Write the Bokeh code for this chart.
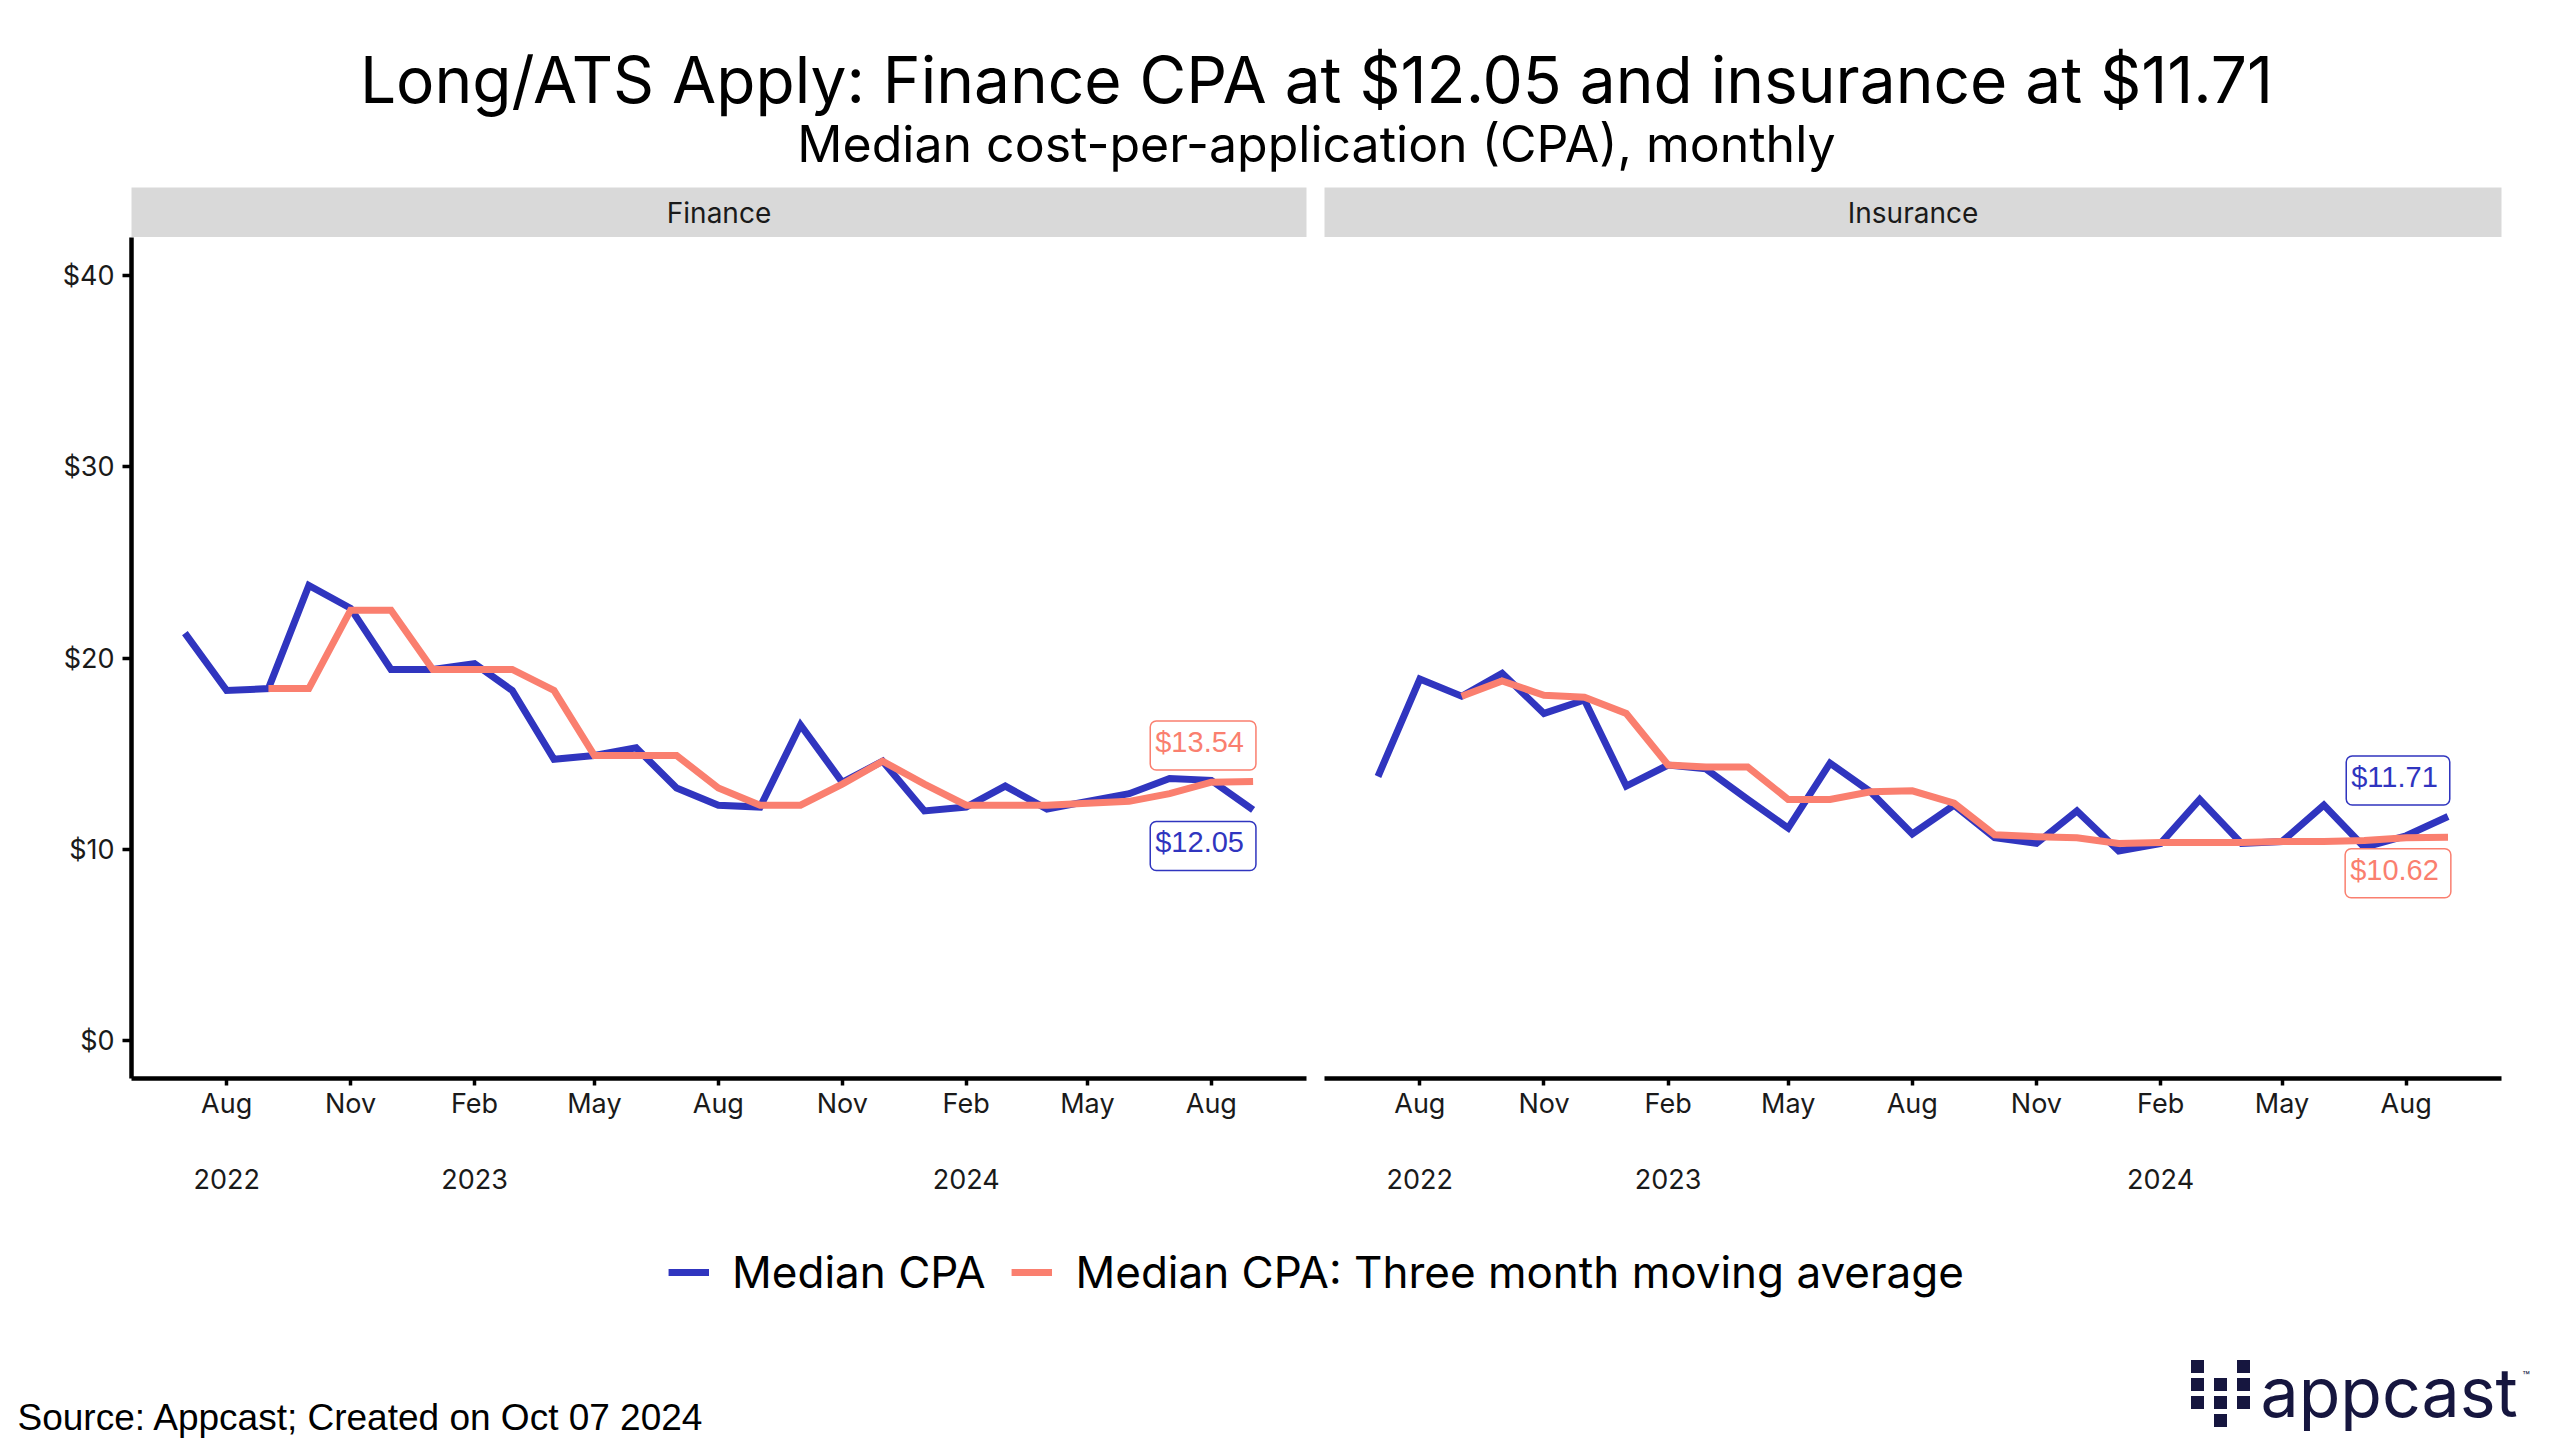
import numpy as np
import pandas as pd
from bokeh.plotting import figure
from bokeh.models import (Range1d, FixedTicker, LinearAxis, Label, Legend, LegendItem,
                          NumeralTickFormatter, Spacer)
from bokeh.layouts import column, row
from bokeh.embed import file_html
from bokeh.resources import INLINE

# ---------------- data ----------------
months = ["2022-07", "2022-08", "2022-09", "2022-10", "2022-11", "2022-12",
          "2023-01", "2023-02", "2023-03", "2023-04", "2023-05", "2023-06",
          "2023-07", "2023-08", "2023-09", "2023-10", "2023-11", "2023-12",
          "2024-01", "2024-02", "2024-03", "2024-04", "2024-05", "2024-06",
          "2024-07", "2024-08", "2024-09"]
nan = np.nan
finance_median = [21.3, 18.3, 18.4, 23.8, 22.6, 19.4, 19.4, 19.7, 18.3, 14.7, 14.9, 15.3,
                  13.2, 12.3, 12.2, 16.5, 13.5, 14.6, 12.0, 12.2, 13.3, 12.1, 12.5, 12.9,
                  13.7, 13.6, 12.05]
finance_ma = [nan, nan, 18.4, 18.4, 22.5, 22.5, 19.4, 19.4, 19.4, 18.3, 14.9, 14.9,
              14.9, 13.2, 12.3, 12.3, 13.4, 14.6, 13.4, 12.3, 12.3, 12.3, 12.4, 12.5,
              12.9, 13.5, 13.54]
insurance_median = [13.8, 18.9, 18.0, 19.2, 17.1, 17.8, 13.3, 14.4, 14.2, 12.6, 11.1, 14.5,
                    13.0, 10.8, 12.3, 10.6, 10.3, 12.0, 9.9, 10.3, 12.6, 10.3, 10.4, 12.3,
                    10.1, 10.7, 11.71]
insurance_ma = [nan, nan, 18.0, 18.8, 18.05, 17.95, 17.1, 14.4, 14.3, 14.3, 12.6, 12.6,
                13.0, 13.05, 12.4, 10.75, 10.65, 10.6, 10.3, 10.35, 10.35, 10.35, 10.4, 10.4,
                10.45, 10.6, 10.62]
panel_names = ["Finance", "Insurance"]
series_names = ["Median CPA", "Median CPA: Three month moving average"]
y_ticks = [0, 10, 20, 30, 40]
month_tick_dates = ["2022-08", "2022-11", "2023-02", "2023-05", "2023-08", "2023-11",
                    "2024-02", "2024-05", "2024-08"]
month_tick_labels = ["Aug", "Nov", "Feb", "May", "Aug", "Nov", "Feb", "May", "Aug"]
year_tick_dates = ["2022-08", "2023-02", "2024-02"]
year_tick_labels = ["2022", "2023", "2024"]

TITLE = "Long/ATS Apply: Finance CPA at $12.05 and insurance at $11.71"
SUBTITLE = "Median cost-per-application (CPA), monthly"
SOURCE = "Source: Appcast; Created on Oct 07 2024"

BLUE = "#3035BF"
SALMON = "#FA7F6F"
FONT = "Inter"
TICK_SIZE = "27px"

# ---------------- x coordinates (days since first month) ----------------
d0 = pd.Timestamp(months[0] + "-01")
def to_days(lst):
    return [int((pd.Timestamp(m + "-01") - d0).days) for m in lst]

x = to_days(months)
month_ticks = to_days(month_tick_dates)
year_ticks = to_days(year_tick_dates)
span = x[-1] - x[0]
x_start, x_end = x[0] - 0.05 * span, x[-1] + 0.05 * span


def blank_fig(width, height, xr, yr, **kw):
    f = figure(width=width, height=height, x_range=xr, y_range=yr,
               min_border_left=kw.get("left", 0), min_border_right=kw.get("right", 0),
               min_border_top=0, min_border_bottom=0, x_axis_type=None, y_axis_type=None,
               toolbar_location=None, output_backend="svg")
    f.outline_line_color = None
    f.border_fill_color = "white"
    f.background_fill_color = "white"
    return f


def make_strip(name, width, left, right):
    s = blank_fig(width, 50, Range1d(0, 1), Range1d(0, 1), left=left, right=right)
    s.background_fill_color = "#D9D9D9"
    s.add_layout(Label(x=0.5, y=0.5, text=name, text_align="center", text_baseline="middle",
                       text_font=FONT, text_font_size="28px", text_color="#1a1a1a"))
    return s


def style_axis(a):
    a.major_label_text_font = FONT
    a.major_label_text_font_size = TICK_SIZE
    a.major_label_text_color = "#1a1a1a"
    a.minor_tick_line_color = None
    a.major_tick_in = 0


def make_panel(median, ma, width, left, right, show_y):
    p = figure(width=width, height=971, x_range=Range1d(x_start, x_end),
               y_range=Range1d(-2, 42), min_border_left=left, min_border_right=right,
               min_border_top=0, min_border_bottom=130, x_axis_type=None,
               y_axis_type=None, toolbar_location=None, output_backend="svg")
    p.outline_line_color = None
    p.background_fill_color = "white"
    p.border_fill_color = "white"

    xa = LinearAxis(ticker=FixedTicker(ticks=month_ticks),
                    major_label_overrides=dict(zip(month_ticks, month_tick_labels)))
    style_axis(xa)
    xa.axis_line_width = 4.5
    xa.axis_line_color = "black"
    xa.major_tick_line_width = 3.5
    xa.major_tick_out = 7
    xa.major_label_standoff = 1
    p.add_layout(xa, "below")

    ya2 = LinearAxis(ticker=FixedTicker(ticks=year_ticks),
                     major_label_overrides=dict(zip(year_ticks, year_tick_labels)))
    style_axis(ya2)
    ya2.axis_line_color = None
    ya2.major_tick_line_color = None
    ya2.major_tick_out = 0
    ya2.major_label_standoff = 46
    p.add_layout(ya2, "below")

    if show_y:
        ya = LinearAxis(ticker=FixedTicker(ticks=y_ticks),
                        formatter=NumeralTickFormatter(format="$0"))
        style_axis(ya)
        ya.axis_line_width = 4.5
        ya.axis_line_color = "black"
        ya.major_tick_line_width = 3.5
        ya.major_tick_out = 9
        ya.major_label_standoff = 8
        p.add_layout(ya, "left")

    p.line(x, median, line_color=BLUE, line_width=7, line_join="miter")
    p.line(x, ma, line_color=SALMON, line_width=7, line_join="miter")

    last_med, last_ma = median[-1], ma[-1]
    med_off, ma_off = (36, -36) if last_med > last_ma else (-36, 36)
    for val, col, off in [(last_med, BLUE, med_off), (last_ma, SALMON, ma_off)]:
        p.add_layout(Label(x=x[-1], y=val, x_offset=-50, y_offset=off,
                           text="${:.2f}".format(val), text_align="center",
                           text_baseline="middle", text_font="Liberation Sans",
                           text_font_size="29px", text_color=col,
                           border_line_color=col, border_line_width=1.5,
                           background_fill_color="white", background_fill_alpha=1.0,
                           padding=(5, 12, 5, 12), border_radius=6))
    return p


# ---------------- header ----------------
header = blank_fig(2560, 187, Range1d(0, 2560), Range1d(0, 187))
header.add_layout(Label(x=1316, y=108, text=TITLE, text_align="center",
                        text_baseline="middle", text_font=FONT, text_font_size="64px",
                        text_color="black"))
header.add_layout(Label(x=1316, y=44, text=SUBTITLE, text_align="center",
                        text_baseline="middle", text_font=FONT, text_font_size="50px",
                        text_color="black"))

strip1 = make_strip(panel_names[0], 1315, 131, 9)
strip2 = make_strip(panel_names[1], 1245, 9, 59)
p1 = make_panel(finance_median, finance_ma, 1315, 131, 9, True)
p2 = make_panel(insurance_median, insurance_ma, 1245, 9, 59, False)

# ---------------- legend (frame 72..2560 so that it centres on the panels) ----------------
lf = blank_fig(2488, 122, Range1d(0, 1), Range1d(0, 1))
# legend keys: the series drawn into a window that they lie outside of, so only the keys show
r1 = lf.line(x=x, y=finance_median, line_color=BLUE, line_width=7)
r2 = lf.line(x=x, y=finance_ma, line_color=SALMON, line_width=7)
legend = Legend(items=[LegendItem(label=series_names[0], renderers=[r1]),
                       LegendItem(label=series_names[1], renderers=[r2])],
                orientation="horizontal", location="top_center",
                glyph_width=41, glyph_height=44, label_height=44, label_standoff=23,
                spacing=26, padding=0, margin=37, border_line_color=None,
                background_fill_alpha=0, label_text_font=FONT,
                label_text_font_size="44px", label_text_color="black")
lf.add_layout(legend, "center")

# ---------------- footer ----------------
bf = blank_fig(2560, 125, Range1d(0, 2560), Range1d(0, 125))
bf.add_layout(Label(x=17, y=38, text=SOURCE, text_baseline="middle",
                    text_font="Liberation Sans", text_font_size="37px", text_color="black"))
NAVY = "#16163F"
logo_x = [2197, 2243, 2197, 2220, 2243, 2197, 2220, 2243, 2220]
logo_y = [89, 89, 71, 71, 71, 53, 53, 53, 35]
bf.rect(x=logo_x, y=logo_y, width=13, height=13, fill_color=NAVY, line_color=None)
bf.add_layout(Label(x=2260, y=64, text="appcast", text_baseline="middle",
                    text_font=FONT, text_font_size="68px", text_color=NAVY))
bf.add_layout(Label(x=2522, y=80, text="\u2122", text_baseline="middle",
                    text_font=FONT, text_font_size="12px", text_color=NAVY))

layout = column(header, row(strip1, strip2), row(p1, p2),
                row(Spacer(width=72, height=122), lf), bf)
open("out.html", "w").write(file_html(layout, INLINE))
